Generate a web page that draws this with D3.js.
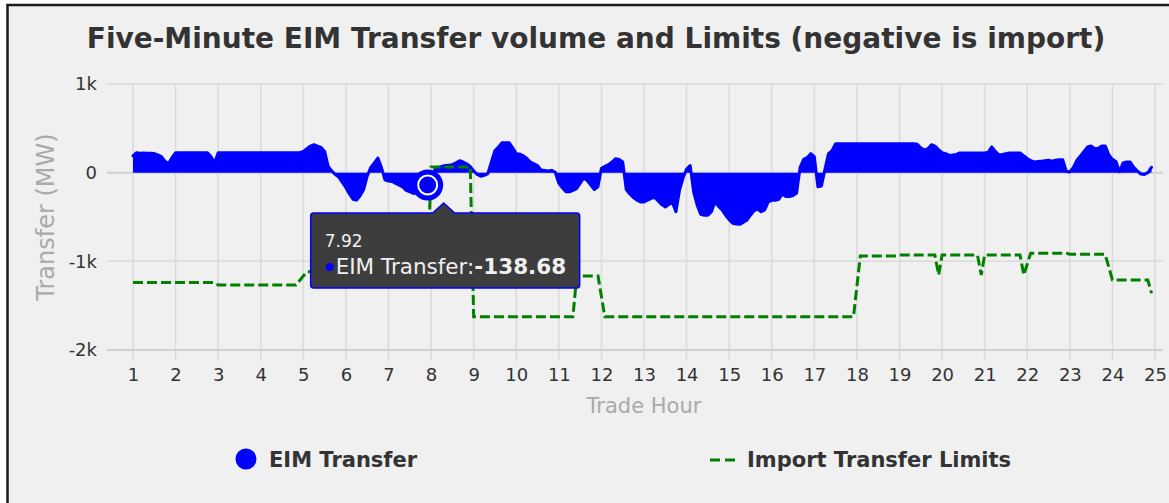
<!DOCTYPE html>
<html>
<head>
<meta charset="utf-8">
<script src="https://cdn.jsdelivr.net/npm/d3@7"></script>
<style>
  body { margin: 0; background: #fff; }
  svg text { font-family: "DejaVu Sans", Verdana, sans-serif; }
</style>
</head>
<body>
<div id="chart"></div>
<script>
// five-minute EIM transfer, one row per trade hour (12 intervals each)
const transferMW = [
  [190, 225, 220, 222, 218, 220, 215, 200, 180, 130, 100, 170],
  [225, 225, 225, 225, 225, 225, 225, 225, 225, 225, 180, 110],
  [225, 225, 225, 225, 225, 225, 225, 225, 225, 225, 225, 225],
  [225, 225, 225, 225, 225, 225, 225, 225, 225, 225, 225, 225],
  [240, 270, 300, 316, 300, 285, 240, 70, 20, -20, -50, -110],
  [-170, -240, -300, -310, -260, -190, -40, 60, 110, 165, 60, -80],
  [-95, -100, -120, -140, -160, -200, -215, -235, -230, -200, -170, -138.68],
  [-60, 30, 60, 70, 80, 85, 90, 110, 135, 120, 100, 70],
  [20, -20, -40, -30, -10, 120, 250, 290, 338, 338, 338, 280],
  [214, 210, 190, 160, 120, 100, 80, 30, 25, 20, 26, 5],
  [-120, -170, -215, -215, -200, -180, -120, -60, -90, -140, -190, -160],
  [50, 70, 90, 120, 158, 150, 120, -190, -240, -280, -310, -330],
  [-330, -310, -290, -280, -320, -360, -387, -360, -335, -440, -200, -60],
  [40, 80, -220, -370, -470, -481, -480, -440, -331, -380, -420, -480],
  [-530, -570, -580, -583, -560, -535, -480, -430, -410, -440, -420, -330],
  [-312, -312, -300, -240, -270, -270, -258, -230, 60, 150, 170, 214],
  [180, -160, -150, 40, 214, 250, 327, 327, 327, 327, 327, 327],
  [327, 327, 327, 327, 327, 327, 327, 327, 327, 327, 327, 327],
  [327, 327, 327, 327, 327, 320, 280, 255, 270, 315, 300, 260],
  [225, 215, 195, 200, 205, 222, 222, 222, 222, 222, 222, 222],
  [222, 230, 290, 240, 200, 205, 215, 222, 222, 222, 222, 190],
  [160, 135, 120, 125, 130, 135, 140, 130, 140, 145, 147, 15],
  [8, 60, 140, 190, 240, 290, 300, 270, 275, 300, 300, 200],
  [150, 125, 10, 110, 120, 120, 60, 20, -15, -20, 0, 60]
];

// import transfer limit, read where the dashed line changes
const limitHours = [1, 2.92, 3, 4.83, 5.08, 7.92, 8, 8.92, 9, 11.33, 11.42, 11.92, 12.08,
  17.92, 18.08, 18.92, 19, 19.83, 19.92, 20, 20.83, 20.92, 21, 21.83, 21.92, 22.08,
  22.92, 23, 23.83, 24, 24.83, 24.92];
const limitMW = [-1240, -1240, -1267, -1267, -1117, -1117, 65, 65, -1625, -1625, -1165, -1165, -1625,
  -1625, -939, -939, -928, -928, -1154, -928, -928, -1154, -928, -928, -1154, -909,
  -909, -920, -920, -1210, -1210, -1360];

const hourTicks = d3.range(1, 26);
const mwTicks = [1000, 0, -1000, -2000];
const hoverHour = 7.92;
const hoverMW = -138.68;

const width = 1169, height = 503;

const transfer = [];
transferMW.forEach((row, h) => row.forEach((v, k) => {
  transfer.push({ hour: h + 1 + k / 12, mw: v });
}));
const limits = limitHours.map((h, i) => ({ hour: h, mw: limitMW[i] }));

const svg = d3.select("#chart")
  .append("svg")
  .attr("width", width)
  .attr("height", height);

// panel with dark frame
svg.append("rect")
  .attr("x", 7.5).attr("y", 5)
  .attr("width", 1300).attr("height", 700)
  .attr("fill", "#f0f0f0")
  .attr("stroke", "#1a1a1a")
  .attr("stroke-width", 2.5);

const x = d3.scaleLinear().domain([1, 25]).range([133, 1155]);
const y = d3.scaleLinear().domain([-2000, 1000]).range([350, 84]);

svg.append("text")
  .attr("x", 596).attr("y", 48)
  .attr("text-anchor", "middle")
  .style("font-size", "28px")
  .style("font-weight", "bold")
  .attr("fill", "#333")
  .text("Five-Minute EIM Transfer volume and Limits (negative is import)");

// horizontal grid
svg.append("g")
  .selectAll("line")
  .data(mwTicks)
  .join("line")
  .attr("x1", 107).attr("x2", 1163)
  .attr("y1", d => y(d)).attr("y2", d => y(d))
  .attr("stroke", d => d === 0 ? "#cfcfcf" : "#dadada")
  .attr("stroke-width", d => d === 0 ? 2 : 1.5);

// vertical grid + ticks
svg.append("g")
  .selectAll("line")
  .data(hourTicks)
  .join("line")
  .attr("x1", d => x(d)).attr("x2", d => x(d))
  .attr("y1", y(1000)).attr("y2", 361)
  .attr("stroke", "#dadada")
  .attr("stroke-width", 1.5);

// x axis line
svg.append("line")
  .attr("x1", 107).attr("x2", 1163)
  .attr("y1", y(-2000)).attr("y2", y(-2000))
  .attr("stroke", "#d0d0d0")
  .attr("stroke-width", 2);

const xAxis = svg.append("g")
  .attr("transform", `translate(0,${y(-2000)})`)
  .call(d3.axisBottom(x).tickValues(hourTicks).tickSize(0).tickPadding(0).tickFormat(d3.format("d")));
xAxis.select(".domain").remove();
xAxis.selectAll("text")
  .attr("y", 31).attr("dy", null)
  .style("font-size", "18px")
  .attr("fill", "#333");

const yAxis = svg.append("g")
  .attr("transform", "translate(97,0)")
  .call(d3.axisLeft(y).tickValues(mwTicks).tickSize(0).tickPadding(0)
    .tickFormat(d => d === 0 ? "0" : (d / 1000) + "k"));
yAxis.select(".domain").remove();
yAxis.selectAll("text")
  .style("font-size", "18px")
  .attr("fill", "#333");

svg.append("text")
  .attr("transform", `translate(54,${y(-500)}) rotate(-90)`)
  .attr("text-anchor", "middle")
  .style("font-size", "24px")
  .attr("fill", "#aaa")
  .text("Transfer (MW)");

svg.append("text")
  .attr("x", x(13)).attr("y", 413)
  .attr("text-anchor", "middle")
  .style("font-size", "21px")
  .attr("fill", "#aaa")
  .text("Trade Hour");

// transfer area
const area = d3.area()
  .x(d => x(d.hour))
  .y0(y(0))
  .y1(d => y(d.mw));
const line = d3.line()
  .x(d => x(d.hour))
  .y(d => y(d.mw));

svg.append("path")
  .datum(transfer)
  .attr("d", area)
  .attr("fill", "#0000ff");
svg.append("path")
  .datum(transfer)
  .attr("d", line)
  .attr("fill", "none")
  .attr("stroke", "#0000ff")
  .attr("stroke-width", 3)
  .attr("stroke-linejoin", "round")
  .attr("stroke-linecap", "round");

// limits
svg.append("path")
  .datum(limits)
  .attr("d", d3.line().x(d => x(d.hour)).y(d => y(d.mw)))
  .attr("fill", "none")
  .attr("stroke", "#008000")
  .attr("stroke-width", 3)
  .attr("stroke-dasharray", "10,4");

// hovered point
const px = x(hoverHour), py = y(hoverMW);
svg.append("circle")
  .attr("cx", px).attr("cy", py).attr("r", 15.5)
  .attr("fill", "#0000ff");
svg.append("circle")
  .attr("cx", px).attr("cy", py).attr("r", 9.5)
  .attr("fill", "none")
  .attr("stroke", "#fff")
  .attr("stroke-width", 2);

// tooltip
const bx = px - 117, by = py + 28, bw = 269, bh = 75, r = 3;
const ax = px + 16, ay = py + 18;
const tip = d3.path();
tip.moveTo(bx + r, by);
tip.lineTo(ax - 11, by);
tip.lineTo(ax, ay);
tip.lineTo(ax + 11, by);
tip.lineTo(bx + bw - r, by);
tip.arcTo(bx + bw, by, bx + bw, by + r, r);
tip.lineTo(bx + bw, by + bh - r);
tip.arcTo(bx + bw, by + bh, bx + bw - r, by + bh, r);
tip.lineTo(bx + r, by + bh);
tip.arcTo(bx, by + bh, bx, by + bh - r, r);
tip.lineTo(bx, by + r);
tip.arcTo(bx, by, bx + r, by, r);
tip.closePath();
svg.append("path")
  .attr("d", tip.toString())
  .attr("fill", "#3d3d3d")
  .attr("stroke", "#0000ff")
  .attr("stroke-width", 1.5);

svg.append("text")
  .attr("x", bx + 14).attr("y", by + 34)
  .style("font-size", "17px")
  .attr("fill", "#f0f0f0")
  .text(hoverHour.toFixed(2));
svg.append("circle")
  .attr("cx", bx + 19).attr("cy", by + 54).attr("r", 4)
  .attr("fill", "#0000ff");
const tipLine = svg.append("text")
  .attr("x", bx + 25).attr("y", by + 61)
  .style("font-size", "21.5px")
  .attr("fill", "#f0f0f0");
tipLine.append("tspan").text("EIM Transfer:");
tipLine.append("tspan").style("font-weight", "bold").text(hoverMW.toFixed(2));

// legend
svg.append("circle")
  .attr("cx", 246).attr("cy", 459).attr("r", 10.5)
  .attr("fill", "#0000ff");
svg.append("text")
  .attr("x", 269).attr("y", 467)
  .style("font-size", "21px")
  .style("font-weight", "bold")
  .attr("fill", "#333")
  .text("EIM Transfer");
svg.append("line")
  .attr("x1", 710).attr("x2", 736)
  .attr("y1", 460).attr("y2", 460)
  .attr("stroke", "#008000")
  .attr("stroke-width", 3)
  .attr("stroke-dasharray", "10,5");
svg.append("text")
  .attr("x", 747).attr("y", 467)
  .style("font-size", "21px")
  .style("font-weight", "bold")
  .attr("fill", "#333")
  .text("Import Transfer Limits");
</script>
</body>
</html>
